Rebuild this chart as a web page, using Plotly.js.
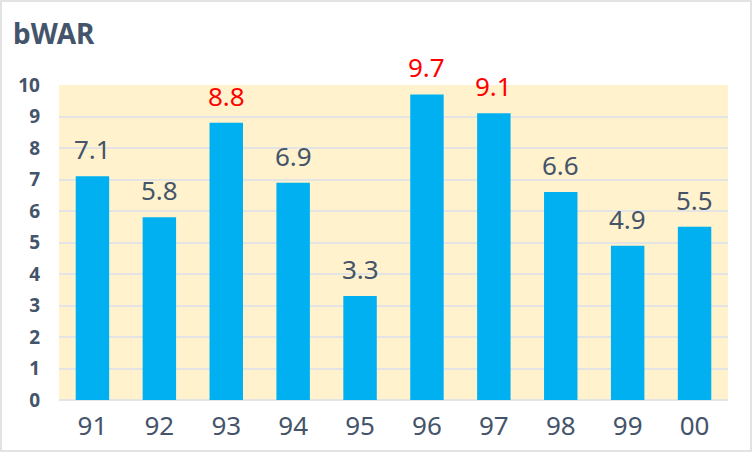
<!DOCTYPE html>
<html><head><meta charset="utf-8">
<script src="https://cdn.plot.ly/plotly-3.0.1.min.js"></script>
<style>
html,body{margin:0;padding:0;background:#fff;}
#wrap{position:relative;width:752px;height:452px;}
#wrap:after{content:"";position:absolute;left:0;top:0;right:0;bottom:0;border:2px solid #e3e3e3;box-sizing:border-box;pointer-events:none;}
#chart{width:752px;height:452px;}
</style></head>
<body><div id="wrap"><div id="chart"></div></div>
<script>
const seasons = ["91","92","93","94","95","96","97","98","99","00"];
const bwar = [7.1,5.8,8.8,6.9,3.3,9.7,9.1,6.6,4.9,5.5];
const highlightThreshold = 8;

const xIndex = seasons.map((s,i) => i);
const labelColors = bwar.map(v => v > highlightThreshold ? "#ff0000" : "#44546a");
const annotations = xIndex.map(i => ({
  x: i, y: bwar[i], xref: "x", yref: "y",
  text: bwar[i].toFixed(1), showarrow: false,
  yanchor: "bottom", yshift: 7,
  font: {family: "Noto Sans, sans-serif", size: 26, color: labelColors[i]}
}));
annotations.push({
  xref: "paper", yref: "paper", x: -0.072, y: 1.165, xanchor: "left", yanchor: "middle",
  text: "<b>bWAR</b>", showarrow: false,
  font: {family: "Noto Sans, sans-serif", size: 28, color: "#44546a"}
});

Plotly.newPlot("chart", [{
  type: "bar", x: xIndex, y: bwar,
  marker: {color: "#00b0f0"}, width: 0.5,
  hoverinfo: "none"
}], {
  width: 752, height: 452,
  margin: {l: 59, r: 24, t: 85, b: 52},
  paper_bgcolor: "#ffffff", plot_bgcolor: "#fff2cc",
  showlegend: false,
  xaxis: {type: "linear", range: [-0.5, 9.5], tickmode: "array", tickvals: xIndex, ticktext: seasons,
          tickfont: {family: "Noto Sans, sans-serif", size: 26, color: "#44546a"},
          showgrid: false, zeroline: false, ticks: "", ticklen: 0, ticklabelstandoff: 8, fixedrange: true},
  yaxis: {range: [0, 10], dtick: 1, tick0: 0, autorange: false,
          tickfont: {family: "Noto Sans, sans-serif", size: 19, color: "#44546a", weight: "bold"},
          gridcolor: "#e4e4e4", gridwidth: 2, zeroline: true, zerolinecolor: "#e4e4e4", zerolinewidth: 2,
          ticks: "", ticklabelstandoff: 18, fixedrange: true},
  annotations: annotations
}, {staticPlot: true});
</script></body></html>
